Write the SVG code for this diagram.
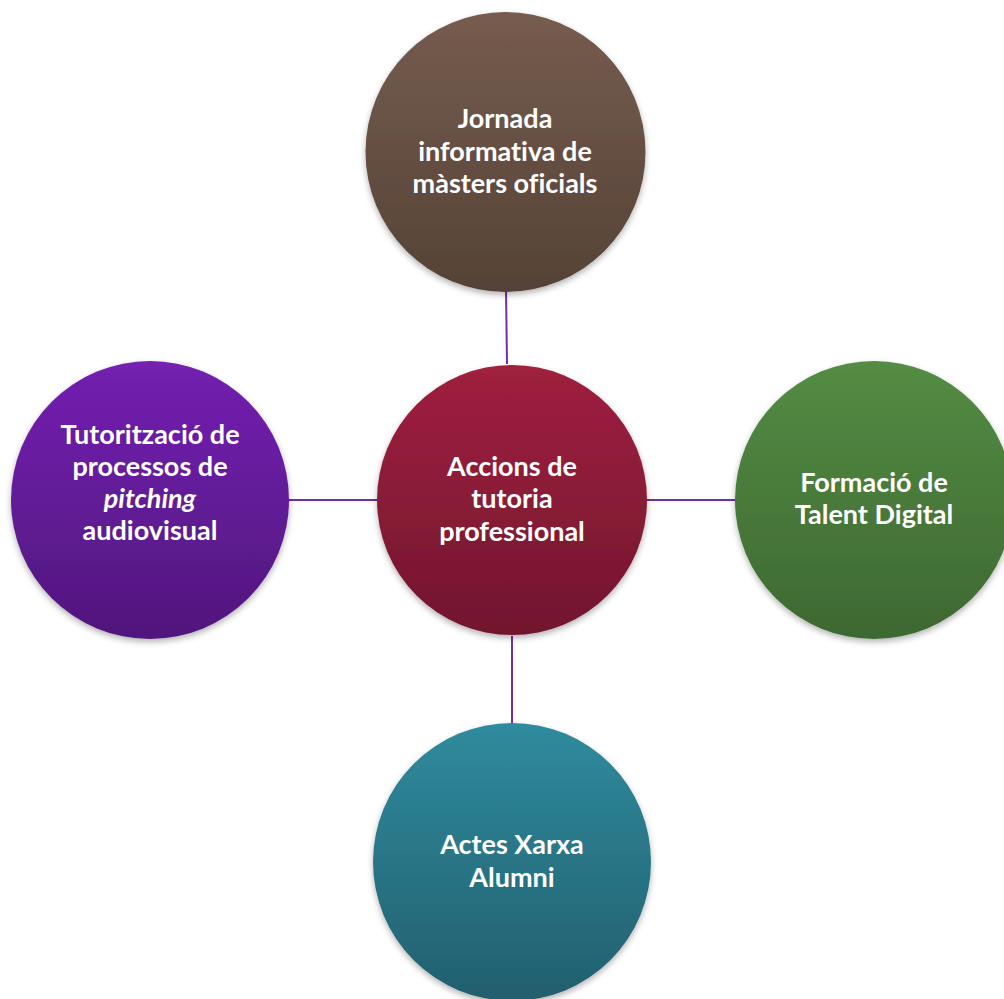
<svg xmlns="http://www.w3.org/2000/svg" width="1004" height="999" viewBox="0 0 1004 999">
<style>
.lbl{font-family:Lato,"Liberation Sans",sans-serif;font-weight:bold;font-size:27px;fill:#fff;text-anchor:middle;font-variant-ligatures:none}
.conn{stroke:#7030A0;stroke-width:2;fill:none}
</style>
<defs>
<linearGradient id="gBrown" x1="0" y1="0" x2="0" y2="1"><stop offset="0" stop-color="#765C4F"/><stop offset="1" stop-color="#554236"/></linearGradient>
<linearGradient id="gRed" x1="0" y1="0" x2="0" y2="1"><stop offset="0" stop-color="#A0203F"/><stop offset="1" stop-color="#71162E"/></linearGradient>
<linearGradient id="gPurple" x1="0" y1="0" x2="0" y2="1"><stop offset="0" stop-color="#7420B2"/><stop offset="1" stop-color="#50177C"/></linearGradient>
<linearGradient id="gGreen" x1="0" y1="0" x2="0" y2="1"><stop offset="0" stop-color="#548C44"/><stop offset="1" stop-color="#3D6831"/></linearGradient>
<linearGradient id="gTeal" x1="0" y1="0" x2="0" y2="1"><stop offset="0" stop-color="#2F8B9D"/><stop offset="1" stop-color="#225F6E"/></linearGradient>
<filter id="sh" x="-10%" y="-10%" width="120%" height="125%"><feDropShadow dx="0" dy="3" stdDeviation="3" flood-color="#000" flood-opacity="0.3"/></filter>
</defs>
<rect width="1004" height="999" fill="#fff"/>
<g id="connectors">
<line class="conn" x1="506" y1="290" x2="507" y2="364"/>
<line class="conn" x1="288" y1="500" x2="380" y2="500"/>
<line class="conn" x1="644" y1="500" x2="736" y2="500"/>
<line class="conn" x1="512" y1="636" x2="512" y2="724"/>
</g>
<g id="node-top">
<circle cx="505.5" cy="152" r="140" fill="url(#gBrown)" filter="url(#sh)"/>
<text class="lbl" x="505" y="128">Jornada</text>
<text class="lbl" x="505" y="161">informativa de</text>
<text class="lbl" x="505" y="193">màsters oficials</text>
</g>
<g id="node-center">
<circle cx="512" cy="500" r="135" fill="url(#gRed)" filter="url(#sh)"/>
<text class="lbl" x="512" y="476">Accions de</text>
<text class="lbl" x="512" y="508">tutoria</text>
<text class="lbl" x="512" y="541">professional</text>
</g>
<g id="node-left">
<circle cx="150" cy="500" r="139" fill="url(#gPurple)" filter="url(#sh)"/>
<text class="lbl" x="150" y="444">Tutorització de</text>
<text class="lbl" x="150" y="476">processos de</text>
<text class="lbl" x="150" y="508" font-style="italic">pitching</text>
<text class="lbl" x="150" y="540">audiovisual</text>
</g>
<g id="node-right">
<circle cx="874" cy="500" r="139" fill="url(#gGreen)" filter="url(#sh)"/>
<text class="lbl" x="874" y="492">Formació de</text>
<text class="lbl" x="874" y="524">Talent Digital</text>
</g>
<g id="node-bottom">
<circle cx="512" cy="862" r="139" fill="url(#gTeal)" filter="url(#sh)"/>
<text class="lbl" x="512" y="854">Actes Xarxa</text>
<text class="lbl" x="512" y="887">Alumni</text>
</g>
</svg>
